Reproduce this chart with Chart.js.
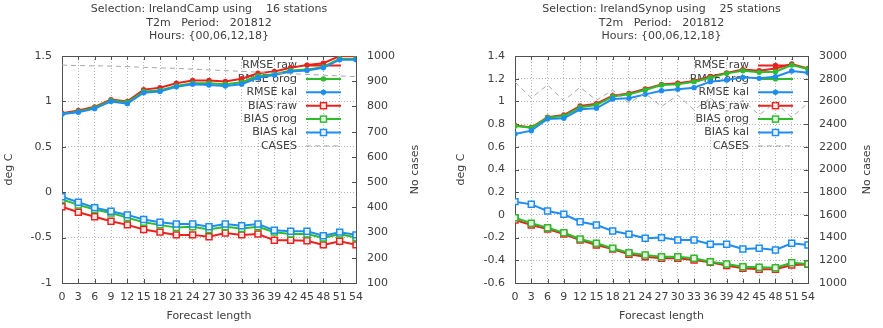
<!DOCTYPE html>
<html>
<head>
<meta charset="utf-8">
<script src="https://cdn.jsdelivr.net/npm/chart.js@4/dist/chart.umd.min.js"></script>
<style>
  body { margin: 0; background: #fff; }
  canvas { position: absolute; top: 0; }
</style>
</head>
<body>
<canvas id="campChart" width="441" height="328" style="left:0"></canvas>
<canvas id="synopChart" width="442" height="328" style="left:441px"></canvas>
<script>
// forecast lengths (hours) shared by both panels
const forecastLength = [0, 3, 6, 9, 12, 15, 18, 21, 24, 27, 30, 33, 36, 39, 42, 45, 48, 51, 54];
const legendLabels   = ['RMSE raw', 'RMSE orog', 'RMSE kal', 'BIAS raw', 'BIAS orog', 'BIAS kal', 'CASES'];

// IrelandCamp, 16 stations
const campRmseRaw  = [0.87, 0.90, 0.94, 1.02, 1.00, 1.13, 1.15, 1.20, 1.23, 1.23, 1.22, 1.25, 1.31, 1.33, 1.37, 1.40, 1.42, 1.50, 1.50];
const campRmseOrog = [0.86, 0.89, 0.93, 1.01, 0.99, 1.11, 1.12, 1.17, 1.20, 1.20, 1.19, 1.21, 1.28, 1.30, 1.34, 1.35, 1.38, 1.47, 1.47];
const campRmseKal  = [0.86, 0.88, 0.92, 1.00, 0.975, 1.095, 1.11, 1.16, 1.19, 1.18, 1.17, 1.19, 1.26, 1.29, 1.33, 1.34, 1.37, 1.46, 1.46];
const campBiasRaw  = [-0.16, -0.22, -0.27, -0.32, -0.36, -0.41, -0.44, -0.47, -0.47, -0.49, -0.45, -0.47, -0.46, -0.53, -0.53, -0.535, -0.58, -0.54, -0.58];
const campBiasOrog = [-0.08, -0.14, -0.19, -0.23, -0.28, -0.33, -0.36, -0.39, -0.38, -0.41, -0.38, -0.40, -0.38, -0.44, -0.46, -0.46, -0.505, -0.46, -0.50];
const campBiasKal  = [-0.05, -0.11, -0.17, -0.21, -0.25, -0.30, -0.33, -0.35, -0.35, -0.38, -0.35, -0.37, -0.35, -0.42, -0.43, -0.43, -0.48, -0.44, -0.47];
const campCases    = [964, 962, 961, 960, 958, 955, 953, 951, 948, 945, 942, 939, 936, 933, 930, 927, 924, 921, 918];

// IrelandSynop, 25 stations
const synopRmseRaw  = [0.79, 0.77, 0.86, 0.88, 0.96, 0.98, 1.05, 1.07, 1.11, 1.15, 1.16, 1.18, 1.22, 1.25, 1.28, 1.27, 1.29, 1.33, 1.29];
const synopRmseOrog = [0.783, 0.768, 0.857, 0.871, 0.948, 0.968, 1.042, 1.062, 1.10, 1.144, 1.15, 1.174, 1.209, 1.247, 1.27, 1.256, 1.262, 1.32, 1.285];
const synopRmseKal  = [0.713, 0.742, 0.846, 0.851, 0.93, 0.939, 1.021, 1.027, 1.062, 1.094, 1.106, 1.121, 1.174, 1.189, 1.212, 1.203, 1.218, 1.268, 1.253];
const synopBiasRaw  = [-0.045, -0.089, -0.124, -0.168, -0.221, -0.265, -0.30, -0.347, -0.368, -0.382, -0.382, -0.397, -0.418, -0.447, -0.47, -0.479, -0.479, -0.441, -0.436];
const synopBiasOrog = [-0.025, -0.074, -0.113, -0.157, -0.212, -0.25, -0.294, -0.333, -0.353, -0.368, -0.368, -0.382, -0.412, -0.433, -0.456, -0.462, -0.465, -0.421, -0.433];
const synopBiasKal  = [0.117, 0.093, 0.034, 0.005, -0.06, -0.089, -0.142, -0.171, -0.206, -0.2, -0.221, -0.221, -0.259, -0.259, -0.3, -0.294, -0.309, -0.25, -0.265];
const synopCases    = [2770, 2630, 2745, 2605, 2725, 2610, 2700, 2585, 2670, 2555, 2655, 2525, 2630, 2510, 2610, 2480, 2590, 2460, 2585];

const RED   = '#e8221e';
const GREEN = '#2cbc2c';
const BLUE  = '#1e8cf0';
const GRAY  = '#a8a8a8';
const TEXT  = '#404040';
const FONT  = 'DejaVu Sans';

const styles = [
    { color: RED,   point: 'circle' },
    { color: GREEN, point: 'circle' },
    { color: BLUE,  point: 'circle' },
    { color: RED,   point: 'rect' },
    { color: GREEN, point: 'rect' },
    { color: BLUE,  point: 'rect' },
    { color: GRAY,  point: null }
];

function drawMarker(ctx, style, x, y) {
    ctx.save();
    ctx.setLineDash([]);
    if (style.point === 'circle') {
        ctx.fillStyle = style.color;
        ctx.beginPath();
        ctx.arc(x, y, 2.7, 0, Math.PI * 2);
        ctx.fill();
    } else if (style.point === 'rect') {
        ctx.strokeStyle = style.color;
        ctx.fillStyle = 'rgba(255,255,255,0.85)';
        ctx.lineWidth = 1.5;
        ctx.fillRect(x - 3, y - 3, 6, 6);
        ctx.strokeRect(x - 3, y - 3, 6, 6);
    }
    ctx.restore();
}

// draws titles, box, inward ticks and the key the way gnuplot does
const panelPlugin = {
    id: 'panel',
    beforeDatasetsDraw(chart, args, opts) {
        const ctx = chart.ctx;
        const a = chart.chartArea;
        ctx.save();
        // border box
        ctx.strokeStyle = '#505050';
        ctx.lineWidth = 1;
        ctx.strokeRect(Math.round(a.left) + 0.5, Math.round(a.top) + 0.5,
                       Math.round(a.right - a.left), Math.round(a.bottom - a.top));
        // inward ticks
        ctx.beginPath();
        chart.scales.x.ticks.forEach(t => {
            const px = Math.round(chart.scales.x.getPixelForValue(t.value)) + 0.5;
            ctx.moveTo(px, a.bottom); ctx.lineTo(px, a.bottom - 4);
            ctx.moveTo(px, a.top);    ctx.lineTo(px, a.top + 4);
        });
        chart.scales.y.ticks.forEach(t => {
            const py = Math.round(chart.scales.y.getPixelForValue(t.value)) + 0.5;
            ctx.moveTo(a.left, py); ctx.lineTo(a.left + 4, py);
        });
        chart.scales.y2.ticks.forEach(t => {
            const py = Math.round(chart.scales.y2.getPixelForValue(t.value)) + 0.5;
            ctx.moveTo(a.right, py); ctx.lineTo(a.right - 4, py);
        });
        ctx.stroke();

        // key
        ctx.font = '11px ' + FONT;
        ctx.fillStyle = TEXT;
        ctx.textAlign = 'right';
        ctx.textBaseline = 'middle';
        const textRight = a.right - 59, s0 = a.right - 50, s1 = a.right - 15;
        legendLabels.forEach((lab, i) => {
            const y = a.top + 9.5 + i * 13.4;
            ctx.fillText(lab, textRight, y);
            const st = styles[i];
            ctx.strokeStyle = st.color;
            ctx.lineWidth = st.point ? 2 : 1;
            ctx.setLineDash(st.point ? [] : [5, 4]);
            ctx.beginPath();
            ctx.moveTo(s0, y); ctx.lineTo(s1, y);
            ctx.stroke();
            drawMarker(ctx, st, (s0 + s1) / 2, y);
        });
        ctx.restore();
    },
    afterDraw(chart, args, opts) {
        const ctx = chart.ctx;
        const a = chart.chartArea;
        const cx = (a.left + a.right) / 2;
        ctx.save();
        ctx.font = '11px ' + FONT;
        ctx.fillStyle = TEXT;
        ctx.textAlign = 'center';
        ctx.textBaseline = 'middle';
        opts.title.forEach((line, i) => ctx.fillText(line, cx, 9.5 + i * 13.2));
        ctx.fillText('Forecast length', cx, 316);
        const cy = (a.top + a.bottom) / 2;
        ctx.translate(opts.leftTitleX, cy);
        ctx.rotate(-Math.PI / 2);
        ctx.fillText('deg C', 0, 0);
        ctx.rotate(Math.PI / 2);
        ctx.translate(opts.rightTitleX - opts.leftTitleX, 0);
        ctx.rotate(-Math.PI / 2);
        ctx.fillText('No cases', 0, 0);
        ctx.restore();
    }
};

function series(values) {
    return values.map((v, i) => ({ x: forecastLength[i], y: v }));
}

// gnuplot style numbers: no thousands separator, no trailing zeros
function tickText(v) {
    return String(Number(v.toFixed(2)));
}

function makePanel(id, p) {
    const allSeries = [p.rmseRaw, p.rmseOrog, p.rmseKal, p.biasRaw, p.biasOrog, p.biasKal, p.cases];
    const datasets = allSeries.map((vals, i) => {
        const st = styles[i];
        return {
            label: legendLabels[i],
            data: series(vals),
            yAxisID: i === 6 ? 'y2' : 'y',
            borderColor: st.color,
            borderWidth: st.point ? 2 : 1,
            borderDash: st.point ? [] : [5, 4],
            pointStyle: st.point || 'circle',
            pointRadius: st.point === 'rect' ? 4.2 : (st.point ? 2.7 : 0),
            pointBorderWidth: st.point === 'rect' ? 1.5 : 0,
            pointBackgroundColor: st.point === 'rect' ? 'rgba(255,255,255,0.85)' : st.color,
            pointBorderColor: st.color,
            tension: 0,
            fill: false,
            order: 6 - i
        };
    });

    const tickFont = { family: FONT, size: 11 };
    return new Chart(document.getElementById(id), {
        type: 'line',
        data: { datasets: datasets },
        plugins: [panelPlugin],
        options: {
            responsive: false,
            animation: false,
            devicePixelRatio: 1,
            layout: { padding: { top: 56 } },
            plugins: {
                legend: { display: false },
                tooltip: { enabled: false },
                panel: { title: p.title, leftTitleX: p.leftTitleX, rightTitleX: p.rightTitleX }
            },
            scales: {
                x: {
                    type: 'linear',
                    min: 0, max: 54,
                    ticks: { stepSize: 3, autoSkip: false, maxRotation: 0, minRotation: 0,
                             color: TEXT, font: tickFont, padding: 8 },
                    grid: { color: '#b4b4b4', drawTicks: false },
                    border: { display: false, dash: [1, 2] },
                    afterFit: s => { s.height = 45; }
                },
                y: {
                    position: 'left',
                    min: p.yMin, max: p.yMax,
                    ticks: { stepSize: p.yStep, color: TEXT, font: tickFont, padding: 10, callback: tickText },
                    grid: { color: '#b4b4b4', drawTicks: false },
                    border: { display: false, dash: [1, 2] },
                    afterFit: s => { s.width = p.leftWidth; }
                },
                y2: {
                    position: 'right',
                    min: p.y2Min, max: p.y2Max,
                    ticks: { stepSize: p.y2Step, color: TEXT, font: tickFont, padding: 11, callback: tickText },
                    grid: { display: false, drawTicks: false },
                    border: { display: false },
                    afterFit: s => { s.width = p.rightWidth; }
                }
            }
        }
    });
}

makePanel('campChart', {
    title: ['Selection: IrelandCamp using    16 stations', 'T2m   Period:   201812', 'Hours: {00,06,12,18}'],
    rmseRaw: campRmseRaw, rmseOrog: campRmseOrog, rmseKal: campRmseKal,
    biasRaw: campBiasRaw, biasOrog: campBiasOrog, biasKal: campBiasKal, cases: campCases,
    yMin: -1, yMax: 1.5, yStep: 0.5,
    y2Min: 100, y2Max: 1000, y2Step: 100,
    leftWidth: 62, rightWidth: 85,
    leftTitleX: 9, rightTitleX: 415
});

makePanel('synopChart', {
    title: ['Selection: IrelandSynop using    25 stations', 'T2m   Period:   201812', 'Hours: {00,06,12,18}'],
    rmseRaw: synopRmseRaw, rmseOrog: synopRmseOrog, rmseKal: synopRmseKal,
    biasRaw: synopBiasRaw, biasOrog: synopBiasOrog, biasKal: synopBiasKal, cases: synopCases,
    yMin: -0.6, yMax: 1.4, yStep: 0.2,
    y2Min: 1000, y2Max: 3000, y2Step: 200,
    leftWidth: 74, rightWidth: 75,
    leftTitleX: 20, rightTitleX: 426
});
</script>
</body>
</html>
